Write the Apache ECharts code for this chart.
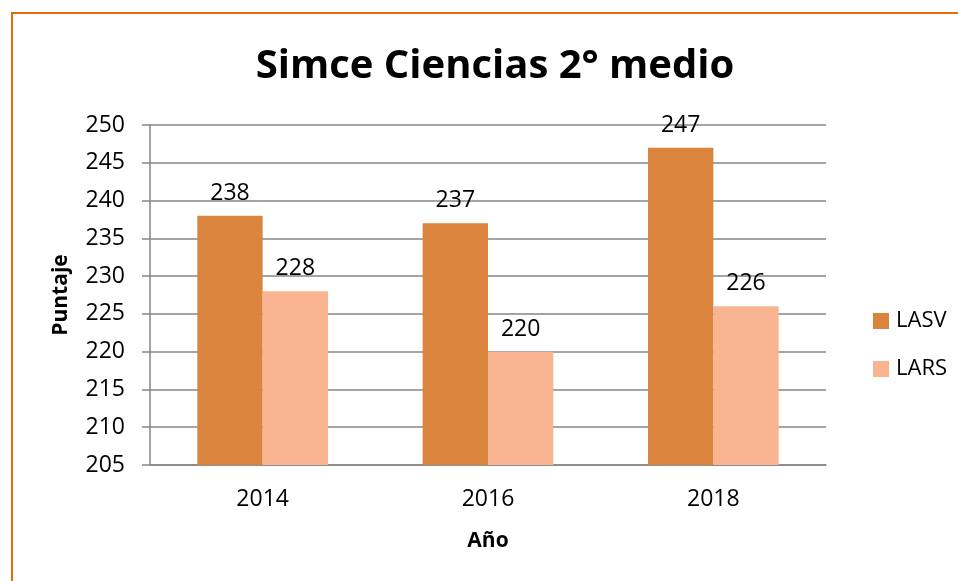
<!DOCTYPE html>
<html>
<head>
<meta charset="utf-8">
<script src="https://cdn.jsdelivr.net/npm/echarts@6/dist/echarts.min.js"></script>
<style>
  html, body { margin: 0; padding: 0; background: #fff; overflow: hidden; }
  .frame {
    position: absolute;
    left: 11px;
    top: 12px;
    width: 1000px;
    height: 700px;
    border: 2px solid #e46c0a;
  }
  #chart { position: absolute; left: 0; top: 0; width: 958px; height: 581px; }
</style>
</head>
<body>
<div class="frame"></div>
<div id="chart"></div>
<script>
const years = ['2014', '2016', '2018']
const lasv = [238, 237, 247]
const lars = [228, 220, 226]
const yTicks = { min: 205, max: 250, interval: 5 }

const chart = echarts.init(document.getElementById('chart'))
const font = '"Open Sans", "Liberation Sans", sans-serif'

chart.setOption({
  animation: false,
  textStyle: { fontFamily: font },
  title: {
    text: 'Simce Ciencias 2° medio',
    left: 490,
    top: 42,
    textAlign: 'center',
    textStyle: { fontFamily: font, fontSize: 40, fontWeight: 'bold', color: '#000' }
  },
  legend: {
    orient: 'vertical',
    left: 868,
    top: 305,
    itemWidth: 16,
    itemHeight: 16,
    itemGap: 26,
    icon: 'rect',
    textStyle: { fontFamily: font, fontSize: 22, color: '#000', lineHeight: 22, padding: [0, 0, 0, 2] },
    data: ['LASV', 'LARS']
  },
  grid: { left: 150, top: 125, right: 132, bottom: 116 },
  xAxis: {
    type: 'category',
    data: years,
    name: 'Año',
    nameLocation: 'middle',
    nameGap: 66,
    nameTextStyle: { fontFamily: font, fontSize: 21, fontWeight: 'bold', color: '#000' },
    axisLine: { lineStyle: { color: '#868686', width: 1.5 } },
    axisTick: { show: false },
    axisLabel: { fontSize: 23, color: '#000', margin: 23 }
  },
  yAxis: {
    type: 'value',
    min: yTicks.min,
    max: yTicks.max,
    interval: yTicks.interval,
    name: 'Puntaje',
    nameLocation: 'middle',
    nameGap: 78,
    nameTextStyle: { fontFamily: font, fontSize: 21, fontWeight: 'bold', color: '#000' },
    axisLine: { show: true, lineStyle: { color: '#868686', width: 1.5 } },
    axisTick: { show: true, length: 8, lineStyle: { color: '#868686', width: 1.5 } },
    axisLabel: { fontSize: 23, color: '#000', margin: 25 },
    splitLine: { lineStyle: { color: '#868686', width: 1.5 } }
  },
  series: [
    {
      name: 'LASV',
      type: 'bar',
      data: lasv,
      barGap: '0%',
      barCategoryGap: '42%',
      itemStyle: { color: '#db843d' },
      label: { show: true, position: 'top', distance: 11, fontSize: 23, color: '#000' }
    },
    {
      name: 'LARS',
      type: 'bar',
      data: lars,
      itemStyle: { color: '#f9b592' },
      label: { show: true, position: 'top', distance: 11, fontSize: 23, color: '#000' }
    }
  ]
})
</script>
</body>
</html>
